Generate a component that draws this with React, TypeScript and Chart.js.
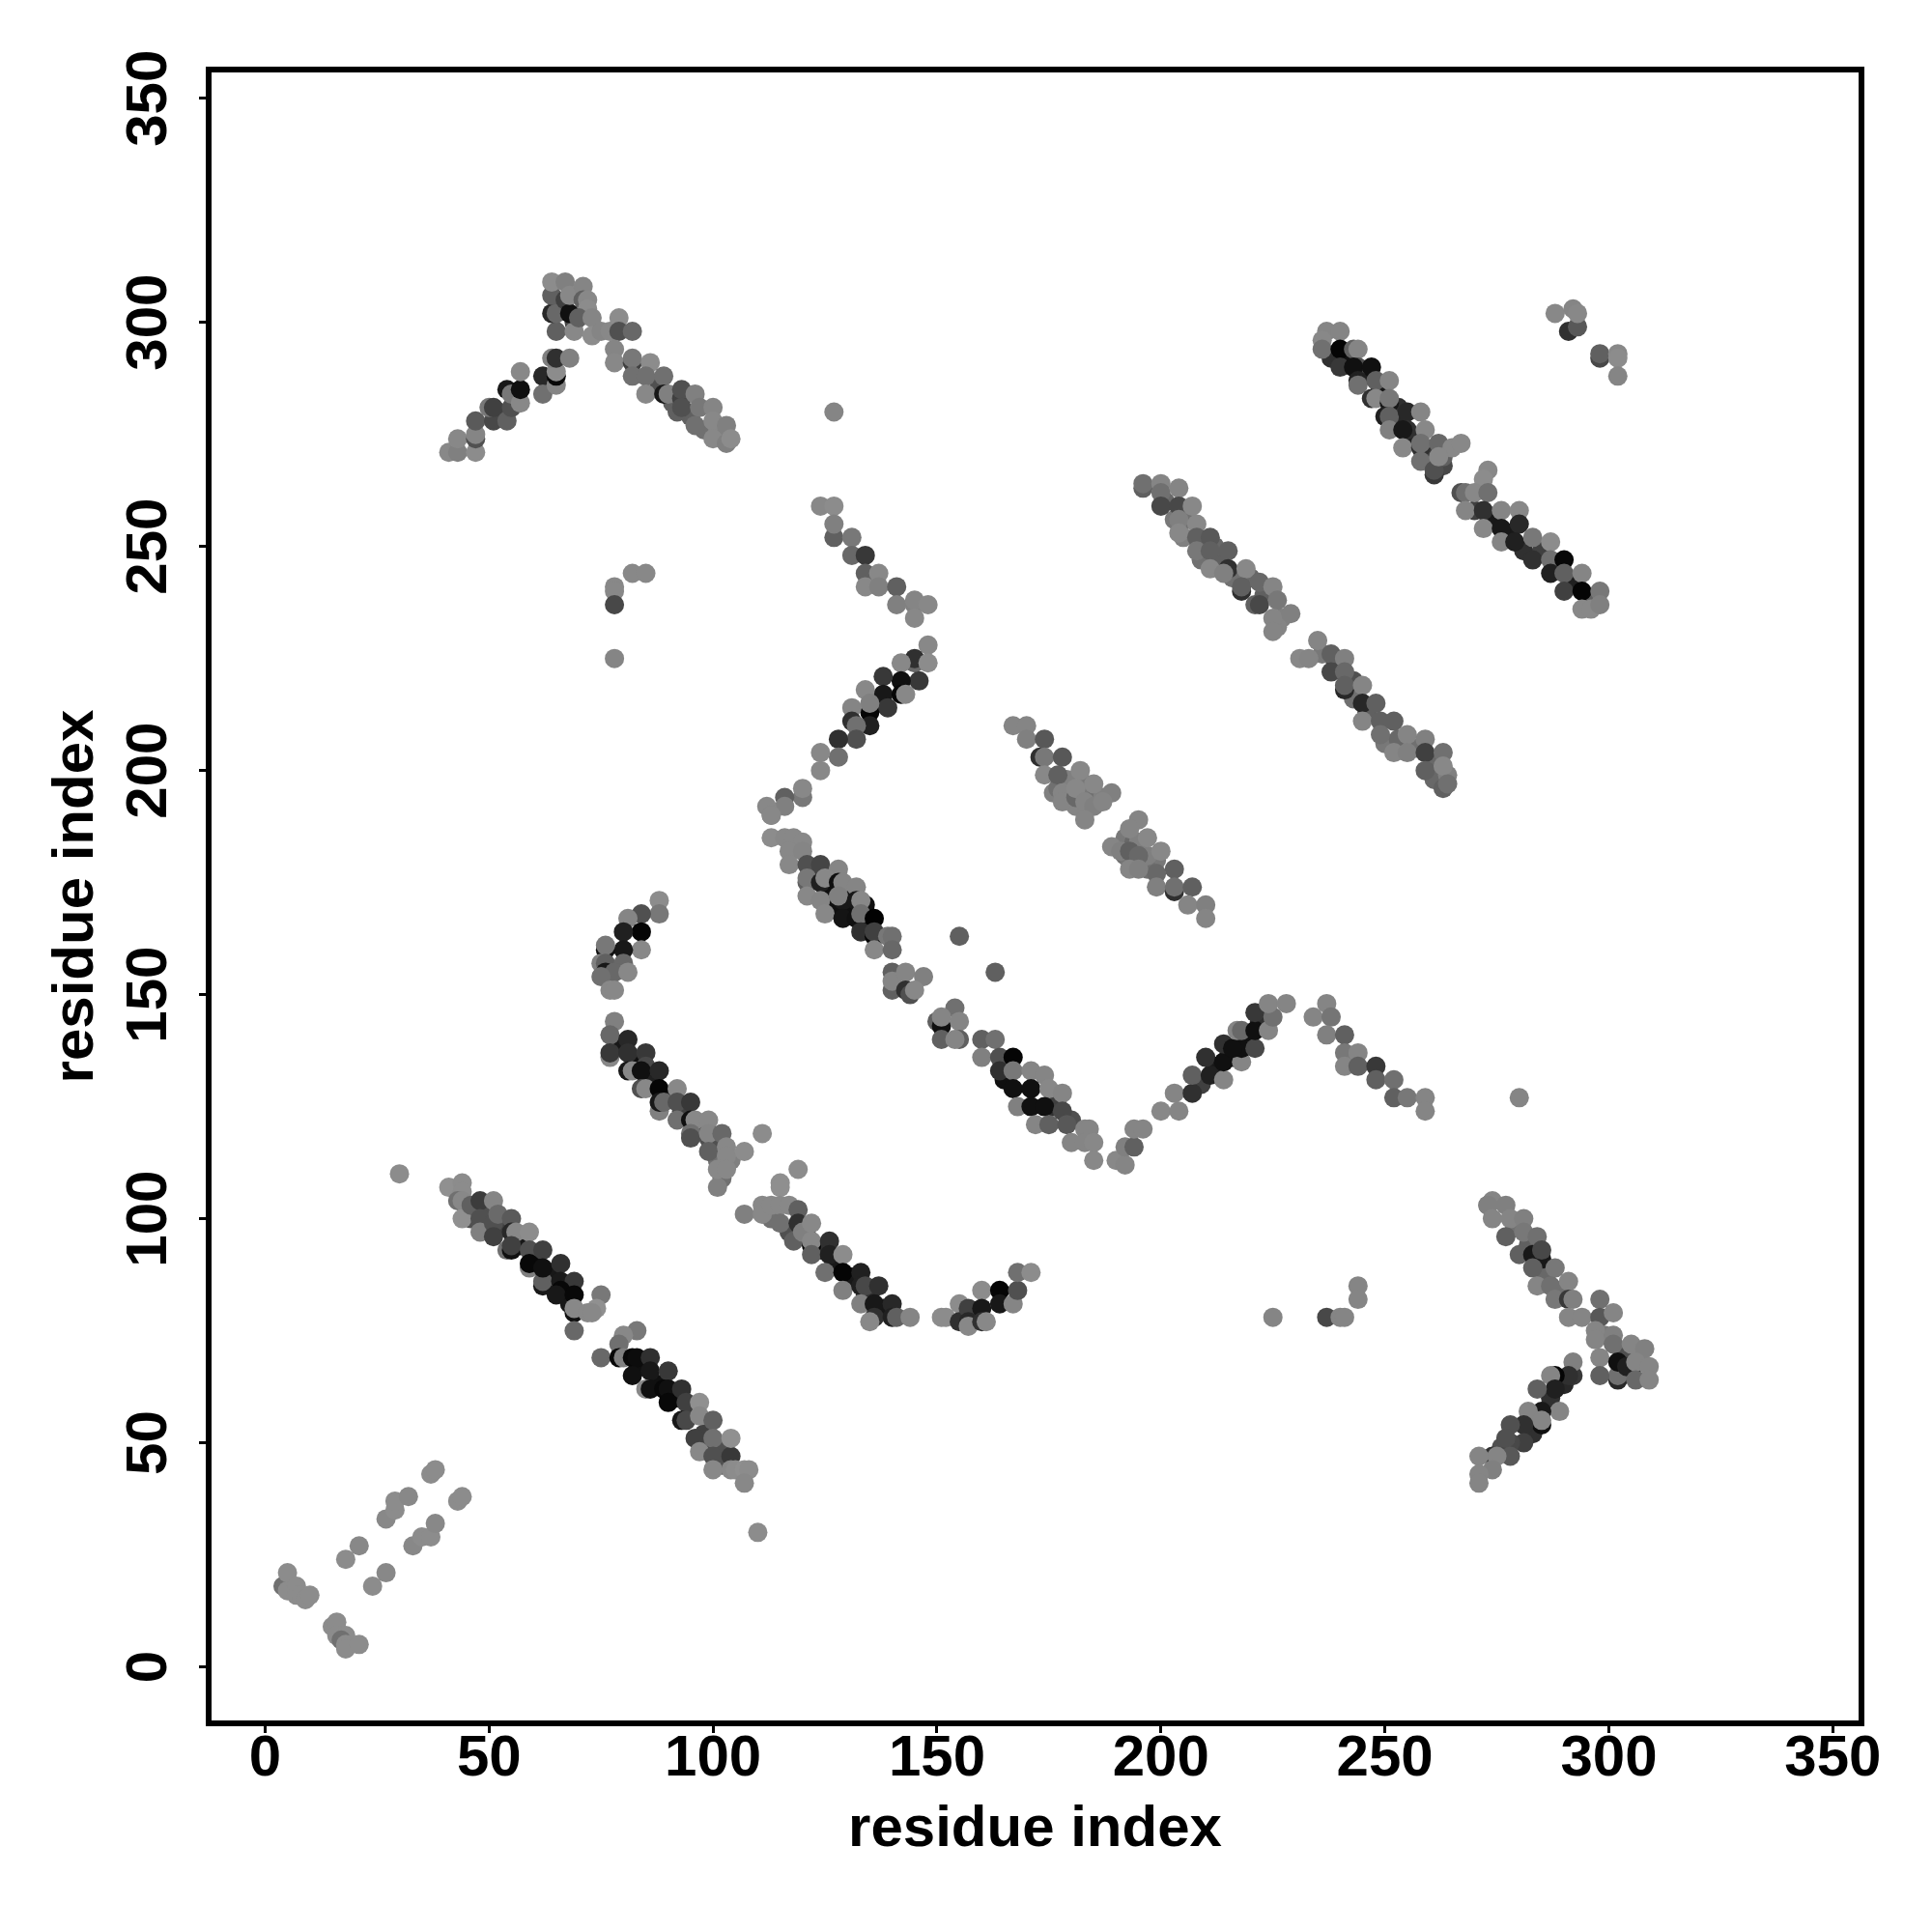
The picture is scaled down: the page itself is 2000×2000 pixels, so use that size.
import React, { useEffect, useRef } from "react";
import { Chart, registerables } from "chart.js";

Chart.register(...registerables);

// Each entry: [residue i, residue j, grey level of the contact]
const underlayLight = [
  [176,195,0x80],[177,196,0x70],[180,195,0x78],[181,192,0x85],[185,195,0x70],[187,194,0x80],[192,185,0x78],[192,181,0x70],
  [194,184,0x68],[195,184,0x80],[199,180,0x78],[197,178,0x70],[193,180,0x75],[179,198,0x80],[183,197,0x78],[197,181,0x80],
  [201,260,0x68],[203,256,0x78],[205,252,0x80],[209,247,0x70],[213,247,0x60],[216,243,0x70],[220,243,0x68],[223,239,0x60],
  [227,234,0x80],[226,232,0x85],[206,256,0x70],[212,250,0x68],
  [236,226,0x78],[239,224,0x50],[243,220,0x50],[243,216,0x70],[246,213,0x60],[250,206,0x78],[253,207,0x68],[257,205,0x70],
  [261,202,0x68],[261,198,0x68],[264,199,0x80],
  [273,103,0x78],[279,98,0x70],[282,94,0x60],[286,87,0x68],[289,84,0x70],[299,74,0x78],[303,70,0x50],[307,70,0x70],
  [52,280,0x48],[56,283,0x68],[66,304,0x50],[69,300,0x48],[88,286,0x50],[91,282,0x60],[95,279,0x60],[98,276,0x70],[101,276,0x80],
];

const underlayDark = [
  [46,100,0x50],[47,102,0x60],[50,101,0x50],[53,98,0x40],[57,94,0x18],[60,91,0x10],[64,88,0x18],[67,84,0x10],[68,81,0x18],
  [84,67,0x10],[88,63,0x10],[92,60,0x10],[95,57,0x30],[98,52,0x40],[99,49,0x40],[102,49,0x50],[102,45,0x60],[103,46,0x50],
  [79,139,0x18],[83,135,0x10],[86,131,0x20],[90,127,0x18],[93,124,0x40],[97,120,0x50],[100,117,0x50],[101,113,0x70],[104,113,0x80],
  [113,100,0x70],[117,97,0x50],[121,96,0x30],[124,93,0x30],[127,90,0x18],[131,87,0x18],[135,83,0x18],[138,80,0x18],[134,83,0x30],
  [122,178,0x30],[126,173,0x10],[130,172,0x10],[134,170,0x10],[127,169,0x10],[131,169,0x10],[134,166,0x18],
  [165,131,0x10],[176,125,0x30],[177,127,0x40],[180,122,0x50],
  [212,134,0x18],[216,136,0x10],[219,140,0x10],[222,144,0x30],[209,130,0x40],
  [238,292,0x30],[242,292,0x10],[245,288,0x18],[249,285,0x18],[253,281,0x30],[253,278,0x28],[256,274,0x20],[260,271,0x40],
  [263,268,0x48],[263,270,0x60],
  [270,258,0x40],[274,256,0x18],[278,253,0x18],[281,249,0x30],[285,249,0x40],[289,246,0x28],[292,242,0x20],[296,238,0x60],
  [285,91,0x18],[305,66,0x20],[283,52,0x30],[276,49,0x50],[287,60,0x30],[290,63,0x28],
];

const lowerLeft = [
  [4,18,0x70],[5,17,0x8c],[5,21,0x8c],[7,18,0x8c],[7,16,0x8c],[8,16,0x8c],[9,15,0x8c],[10,16,0x8c],
  [15,9,0x8c],[16,10,0x8c],[16,7,0x8c],[18,7,0x8c],[17,6,0x70],[18,5,0x8c],[18,4,0x8c],[21,5,0x8c],
  [18,24,0x8c],[21,27,0x88],[24,18,0x8c],[27,21,0x88],[27,33,0x88],[29,35,0x8c],[29,37,0x8c],[32,38,0x88],
  [33,27,0x88],[35,29,0x8c],[37,29,0x8c],[38,32,0x88],[37,43,0x8c],[38,44,0x8c],[43,37,0x8c],[44,38,0x8c],
  [30,110,0x8c],[110,30,0x8c],
];

const bandA = [
  [41,107,0x90],[44,108,0x8c],[44,106,0x8c],[43,104,0x70],[44,104,0x88],[44,100,0x90],[46,103,0x60],
  [48,104,0x3c],[48,100,0x50],[48,97,0x80],[51,104,0x85],[51,99,0x50],[51,96,0x40],[52,101,0x6a],
  [55,100,0x5a],[55,97,0x28],[56,97,0x88],[59,97,0x8c],[54,93,0x70],[55,93,0x10],[55,94,0x40],
  [59,93,0x50],[62,93,0x40],[59,89,0x80],[59,90,0x08],[62,85,0x18],[62,86,0x60],[62,89,0x10],
  [66,90,0x30],[66,86,0x1a],[69,86,0x38],[66,84,0x08],[65,83,0x18],[69,79,0x10],[69,83,0x08],[69,80,0x88],
  [69,75,0x68],[75,83,0x78],[74,80,0x90],[72,79,0x88],[73,79,0x88],
  [83,75,0x78],[80,74,0x88],[79,72,0x70],[75,69,0x68],[79,69,0x08],[80,69,0x80],[82,69,0x08],[83,69,0x0c],
  [86,69,0x30],[82,65,0x10],[86,66,0x18],[85,62,0x88],[86,62,0x10],[90,66,0x38],[89,62,0x08],[90,62,0x10],
  [90,59,0x08],[93,62,0x30],[94,59,0x40],[93,55,0x18],[94,55,0x48],[97,59,0x90],[97,56,0x88],[100,55,0x60],
  [96,51,0x40],[97,48,0x88],[100,51,0x70],[100,47,0x50],[104,47,0x38],[104,51,0x90],[100,44,0x88],[104,44,0x88],
  [105,44,0x8c],[107,44,0x8f],[108,44,0x8c],[107,41,0x88],
];

const bandB = [
  [78,144,0x80],[77,141,0x68],[77,136,0x88],[77,137,0x38],[81,140,0x28],[81,137,0x30],[85,137,0x38],
  [81,133,0x18],[82,133,0x88],[85,134,0x48],[84,133,0x10],[88,133,0x28],[84,129,0x50],[85,129,0x88],
  [88,129,0x05],[92,129,0x88],[88,124,0x80],[88,126,0x18],[89,126,0x68],[92,126,0x50],[95,126,0x38],
  [92,122,0x70],[95,122,0x10],[96,122,0x88],[99,122,0x88],[95,119,0x70],[95,118,0x50],[99,118,0x50],
  [99,119,0x85],[102,119,0x68],[99,115,0x60],[103,116,0x88],[103,114,0x88],[107,115,0x8c],[111,119,0x8c],
  [102,109,0x70],[101,107,0x80],[101,111,0x88],[103,111,0x88],
];

const bandC = [
  [119,111,0x8c],[115,108,0x8f],[115,107,0x8f],[107,101,0x80],[111,103,0x88],[111,101,0x88],[113,103,0x88],
  [115,103,0x88],[115,99,0x70],[117,103,0x88],[119,102,0x60],[119,99,0x30],[118,95,0x60],[120,97,0x80],
  [122,99,0x88],[122,94,0x05],[122,95,0x88],[122,92,0x60],[126,95,0x30],[126,92,0x20],[129,92,0x8c],
  [125,88,0x70],[129,88,0x05],[133,88,0x20],[129,84,0x80],[133,85,0x20],[134,85,0x48],[137,85,0x30],
  [133,81,0x80],[136,81,0x18],[140,81,0x28],[136,78,0x30],[135,77,0x88],[140,78,0x20],[141,78,0x60],[144,78,0x85],
];

const hookC = [
  [151,78,0x8c],[152,78,0x8c],[155,81,0x8c],[155,77,0x30],[157,80,0x40],[157,77,0x28],[157,76,0x88],[160,84,0x8c],
  [160,80,0x18],[160,77,0x30],[161,77,0x88],[164,84,0x05],[164,81,0x18],[167,81,0x85],[168,84,0x50],[168,88,0x70],[171,88,0x8c],
];

const hookB = [
  [88,171,0x8c],[88,168,0x78],[84,168,0x50],[81,167,0x85],[84,164,0x05],[80,164,0x20],[84,160,0x88],[80,160,0x18],
  [76,160,0x10],[76,161,0x78],[75,157,0x80],[76,157,0x60],[80,157,0x68],[76,155,0x18],[78,155,0x68],[81,155,0x88],
  [75,154,0x70],[77,151,0x88],[78,151,0x88],
];

const peakA = [
  [41,271,0x88],[43,271,0x80],[47,271,0x8c],[43,274,0x88],[47,274,0x50],[47,275,0x85],[47,278,0x5a],[51,278,0x48],
  [50,281,0x78],[51,281,0x40],[54,278,0x60],[55,281,0x50],[54,285,0x18],[55,284,0x78],[57,282,0x88],[57,285,0x10],
  [57,289,0x88],[62,288,0x28],[62,284,0x70],[65,286,0x85],[65,288,0x08],[65,289,0x8c],[64,292,0x80],[65,292,0x30],
  [68,292,0x80],[65,298,0x60],[69,298,0x88],[64,302,0x28],[65,302,0x68],[64,306,0x60],[64,309,0x8c],[67,309,0x80],
  [67,305,0x40],[68,302,0x10],[68,306,0x88],[71,308,0x85],[71,305,0x60],[72,305,0x88],[72,303,0x8c],[70,301,0x60],
  [73,301,0x85],[73,297,0x8c],[75,298,0x85],[77,298,0x88],[79,301,0x8c],[79,298,0x50],[82,298,0x68],[78,294,0x85],
  [78,291,0x88],[82,291,0x40],[82,292,0x78],[82,288,0x70],[86,291,0x8c],[85,288,0x70],[89,288,0x70],[85,284,0x88],
  [89,284,0x18],[90,284,0x80],[93,283,0x40],[93,285,0x50],[92,280,0x60],[93,281,0x50],[96,284,0x80],[97,281,0x78],
  [100,281,0x85],[96,277,0x70],[100,278,0x88],[100,274,0x88],[103,277,0x80],[103,273,0x80],[104,274,0x8c],
];

const scatterTop = [
  [82,244,0x88],[85,244,0x88],[78,241,0x88],[78,240,0x88],[78,237,0x48],[78,225,0x85],[127,280,0x85],
  [155,163,0x60],[163,155,0x60],[225,78,0x85],[237,78,0x48],[240,78,0x85],[241,78,0x85],[244,85,0x85],[244,82,0x85],[280,127,0x85],
];

const branchK = [
  [124,259,0x88],[127,259,0x8c],[127,252,0x60],[127,255,0x80],[131,252,0x78],[131,248,0x68],[134,248,0x38],[134,244,0x60],
  [137,244,0x88],[134,241,0x88],[137,241,0x80],[141,241,0x60],[141,237,0x80],[145,237,0x80],[145,238,0x85],[148,237,0x88],[145,234,0x88],
];

const branchL = [
  [148,228,0x88],[145,224,0x68],[145,225,0x30],[148,224,0x8c],[142,224,0x88],[146,220,0x38],[142,220,0x10],[138,221,0x38],
  [138,217,0x18],[142,217,0x08],[143,217,0x88],[134,218,0x88],[139,214,0x38],[135,213,0x05],[135,215,0x80],[131,214,0x85],
  [135,210,0x20],[131,211,0x30],[132,210,0x70],[132,207,0x50],[128,207,0x30],[128,203,0x70],[124,204,0x88],[124,200,0x88],
  [120,194,0x78],[120,196,0x88],[116,194,0x60],[116,192,0x80],[112,192,0x88],[113,190,0x85],
];

const bandM = [
  [237,298,0x85],[240,298,0x85],[236,296,0x88],[236,294,0x70],[240,294,0x05],[243,294,0x60],[244,294,0x85],[240,290,0x38],
  [244,290,0x50],[243,290,0x10],[247,290,0x10],[244,287,0x20],[244,286,0x70],[248,287,0x60],[251,287,0x85],[247,283,0x30],
  [248,283,0x88],[251,282,0x18],[251,283,0x78],[250,279,0x20],[251,279,0x60],[255,280,0x28],[258,280,0x85],[251,276,0x80],
  [255,276,0x30],[254,276,0x18],[259,276,0x88],[254,272,0x88],[258,272,0x30],[258,273,0x70],[262,273,0x68],[265,272,0x88],
  [267,273,0x88],[258,269,0x70],[261,266,0x38],[261,267,0x50],[262,270,0x88],
];

const bandN = [
  [273,267,0x88],[272,265,0x8c],[267,262,0x50],[268,262,0x70],[270,262,0x88],[273,262,0x70],[268,258,0x85],[272,258,0x30],
  [276,258,0x85],[280,258,0x88],[272,254,0x88],[276,254,0x18],[280,255,0x28],[276,251,0x85],[279,251,0x20],[283,252,0x78],
  [287,251,0x8c],[283,247,0x30],[287,247,0x70],[290,247,0x08],[287,244,0x20],[290,244,0x60],[294,244,0x85],[290,240,0x40],
  [294,240,0x05],[298,240,0x78],[294,236,0x88],[296,236,0x88],[298,237,0x80],
];

const cornerO = [
  [288,302,0x88],[291,298,0x30],[293,299,0x58],[292,303,0x85],[293,302,0x88],[298,292,0x48],[298,293,0x60],[302,293,0x88],[302,292,0x8c],[302,288,0x85],
];

const bandP = [
  [196,263,0x60],[196,264,0x70],[200,264,0x85],[200,262,0x70],[204,263,0x85],[200,259,0x48],[204,259,0x48],[207,259,0x88],
  [204,256,0x80],[204,253,0x88],[208,255,0x88],[208,252,0x60],[211,252,0x58],[208,249,0x78],[211,249,0x60],[215,249,0x60],
  [211,245,0x88],[215,245,0x30],[219,245,0x88],[214,244,0x80],[218,240,0x30],[218,241,0x60],[222,242,0x68],[225,241,0x85],
  [221,237,0x60],[222,237,0x48],[226,238,0x78],[225,234,0x85],[229,235,0x80],[225,231,0x85],
];

const bandQ = [
  [235,229,0x85],[231,225,0x88],[233,225,0x85],[238,226,0x60],[241,225,0x80],[238,222,0x48],[241,222,0x68],[241,218,0x28],
  [241,219,0x60],[245,219,0x85],[245,215,0x28],[248,215,0x60],[245,211,0x85],[249,211,0x60],[252,211,0x60],[249,208,0x70],
  [255,208,0x85],[252,204,0x85],[255,204,0x80],[259,207,0x80],[259,204,0x40],[263,204,0x70],[259,200,0x60],[263,201,0x88],
  [263,196,0x60],[264,197,0x70],
];

const bandR = [
  [167,210,0x85],[170,210,0x85],[170,207,0x80],[173,203,0x30],[174,207,0x58],[174,203,0x78],[178,203,0x58],[174,199,0x88],
  [177,199,0x60],[182,200,0x88],[178,195,0x85],[178,193,0x85],[181,194,0x68],[181,196,0x88],[185,197,0x88],[183,193,0x85],
  [185,192,0x80],[189,195,0x80],[187,193,0x85],[183,189,0x85],
  [195,189,0x85],[193,187,0x85],[189,183,0x85],[191,182,0x80],[193,182,0x60],[197,185,0x88],[195,181,0x68],[193,178,0x85],
  [200,182,0x88],[199,177,0x68],[195,178,0x80],[203,178,0x60],[199,174,0x80],[203,173,0x30],[203,174,0x70],[207,174,0x60],
  [206,170,0x85],[210,170,0x80],[210,167,0x85],
];

const bandY = [
  [113,190,0x88],[113,185,0x8c],[116,185,0x88],[118,185,0x88],[120,184,0x88],[117,182,0x88],[120,182,0x85],[117,179,0x88],
  [121,175,0x60],[121,179,0x50],[124,179,0x45],[121,176,0x78],[128,178,0x85],[121,172,0x88],[124,175,0x20],[125,176,0x88],
  [128,175,0x10],[129,175,0x85],[132,174,0x85],[125,171,0x10],[124,171,0x85],[125,168,0x88],[129,171,0x18],[128,172,0x80],
  [132,171,0x18],[133,171,0x88],[129,167,0x14],[132,167,0x10],[133,168,0x70],[136,167,0x02],[133,164,0x30],[136,163,0x05],
  [136,164,0x40],[136,160,0x88],[139,163,0x78],[140,163,0x70],[140,160,0x68],[140,155,0x60],[140,151,0x60],[140,153,0x85],
  [143,155,0x85],[147,154,0x80],[143,151,0x30],[144,150,0x50],[145,151,0x88],[154,147,0x70],[150,144,0x60],[151,143,0x10],
  [151,145,0x85],[155,144,0x85],[151,140,0x60],[155,140,0x60],[154,140,0x85],
];

const bandS = [
  [160,140,0x60],[163,140,0x70],[160,136,0x80],[164,136,0x50],[167,136,0x05],[164,133,0x30],[167,133,0x78],[171,133,0x85],
  [174,132,0x85],[167,129,0x10],[171,129,0x10],[175,129,0x88],[178,128,0x85],[168,125,0x80],[171,125,0x10],[174,125,0x10],
  [178,124,0x48],[172,121,0x85],[175,121,0x60],[179,121,0x58],[183,120,0x85],[184,120,0x85],[180,117,0x85],[183,117,0x85],
  [185,117,0x88],[185,113,0x88],
];

const valleyT = [
  [190,113,0x88],[192,112,0x85],[192,116,0x80],[194,116,0x60],[194,120,0x85],[196,120,0x85],[200,124,0x88],[204,124,0x85],
  [203,128,0x85],[207,128,0x30],[207,132,0x60],[211,132,0x20],[210,136,0x30],[214,131,0x85],[214,135,0x10],[214,139,0x30],
  [218,135,0x85],[218,138,0x10],[216,138,0x10],[217,142,0x85],[218,142,0x68],[221,138,0x48],[221,142,0x10],[224,142,0x85],
  [221,146,0x38],[225,145,0x70],[224,148,0x85],[228,148,0x85],
];

const slopeU = [
  [237,148,0x85],[234,145,0x85],[238,145,0x75],[237,141,0x80],[241,141,0x60],[241,137,0x78],[244,137,0x85],[241,134,0x85],
  [244,134,0x60],[248,134,0x38],[248,131,0x60],[252,131,0x70],[252,127,0x60],[255,127,0x78],[259,127,0x85],[259,124,0x85],
];

const bandW = [
  [274,104,0x85],[273,103,0x80],[277,103,0x80],[274,100,0x85],[278,100,0x85],[281,100,0x80],[277,96,0x60],[281,97,0x78],
  [284,96,0x70],[280,92,0x60],[283,92,0x18],[285,93,0x48],[283,89,0x60],[284,85,0x85],[288,89,0x78],[287,85,0x70],
  [291,86,0x85],[288,82,0x78],[291,82,0x38],[292,82,0x80],[291,78,0x85],[294,78,0x85],[298,82,0x70],[298,78,0x58],
  [301,79,0x85],[297,75,0x85],[297,73,0x85],[301,74,0x80],[301,72,0x70],[305,72,0x85],[308,71,0x80],[298,69,0x85],
  [302,64,0x28],[302,65,0x70],[302,68,0x10],[304,67,0x20],[306,68,0x85],[309,67,0x85],[298,65,0x60],[306,64,0x68],[309,64,0x85],
];

const bandX = [
  [292,65,0x38],[292,68,0x80],[291,65,0x30],[288,65,0x05],[287,65,0x85],[288,62,0x20],[284,62,0x60],[289,57,0x85],
  [285,57,0x18],[282,57,0x85],[285,54,0x10],[285,55,0x85],[281,54,0x30],[278,54,0x50],[281,50,0x40],[278,50,0x48],
  [277,51,0x50],[278,47,0x58],[274,47,0x30],[275,47,0x85],[271,47,0x85],[274,44,0x80],[271,43,0x85],[271,41,0x85],
];

const contacts = [
  ...underlayLight, ...underlayDark,
  ...lowerLeft, ...bandA, ...bandB, ...bandC, ...hookC, ...hookB, ...peakA, ...scatterTop, ...branchK, ...branchL,
  ...bandM, ...bandN, ...cornerO, ...bandP, ...bandQ, ...bandR, ...bandY, ...bandS, ...valleyT, ...slopeU, ...bandW, ...bandX,
];

const axisTicks = [0, 50, 100, 150, 200, 250, 300, 350];
const axisLabel = "residue index";
const FONT = '"Liberation Sans", Arial, sans-serif';

const framePlugin = {
  id: "frame",
  afterDraw(chart: any) {
    const { ctx, chartArea: a, scales } = chart;
    ctx.save();
    ctx.strokeStyle = "#000";
    ctx.lineWidth = 6;
    ctx.lineJoin = "miter";
    ctx.strokeRect(a.left, a.top, a.right - a.left, a.bottom - a.top);
    const y = scales.y;
    ctx.fillStyle = "#000";
    ctx.font = `bold 60px ${FONT}`;
    ctx.textAlign = "center";
    ctx.textBaseline = "alphabetic";
    for (const t of y.ticks) {
      ctx.save();
      ctx.translate(172, y.getPixelForValue(t.value));
      ctx.rotate(-Math.PI / 2);
      ctx.fillText(String(t.value), 0, 0);
      ctx.restore();
    }
    ctx.restore();
  },
};

export default function App() {
  const ref = useRef<HTMLCanvasElement | null>(null);
  useEffect(() => {
    const chart = new Chart(ref.current as HTMLCanvasElement, {
      type: "scatter",
      data: {
        datasets: [
          {
            data: contacts.map(([x, y]) => ({ x, y })),
            pointRadius: 10,
            pointHoverRadius: 10,
            pointBorderWidth: 0,
            pointBackgroundColor: contacts.map(([, , g]) => `rgb(${g},${g},${g})`),
          },
        ],
      },
      options: {
        responsive: false,
        animation: false,
        layout: { padding: { left: 0, right: 73, top: 72, bottom: 0 } },
        plugins: { legend: { display: false }, tooltip: { enabled: false } },
        scales: {
          x: {
            type: "linear",
            min: -12.6,
            max: 356.4,
            afterFit: (s: any) => { s.height = 216; },
            afterBuildTicks: (s: any) => { s.ticks = axisTicks.map((value) => ({ value })); },
            grid: { drawOnChartArea: false, drawTicks: true, tickLength: 10, tickWidth: 3, tickColor: "#000" },
            border: { display: false },
            ticks: {
              autoSkip: false,
              maxRotation: 0,
              minRotation: 0,
              padding: -3,
              color: "#000",
              font: { family: FONT, weight: "bold", size: 60, lineHeight: 1 },
            },
            title: {
              display: true,
              text: axisLabel,
              color: "#000",
              font: { family: FONT, weight: "bold", size: 60, lineHeight: 1 },
              padding: { top: 0, bottom: 76 },
            },
          },
          y: {
            type: "linear",
            min: -12.6,
            max: 356.4,
            afterFit: (s: any) => { s.width = 216; },
            afterBuildTicks: (s: any) => { s.ticks = axisTicks.map((value) => ({ value })); },
            grid: { drawOnChartArea: false, drawTicks: true, tickLength: 10, tickWidth: 3, tickColor: "#000" },
            border: { display: false },
            ticks: { display: false },
            title: {
              display: true,
              text: axisLabel,
              color: "#000",
              font: { family: FONT, weight: "bold", size: 60, lineHeight: 1 },
              padding: { top: 49, bottom: 0 },
            },
          },
        },
      },
      plugins: [framePlugin],
    } as any);
    return () => chart.destroy();
  }, []);
  return (
    <div style={{ position: "absolute", left: 0, top: 0, width: 2000, height: 2000, background: "#fff" }}>
      <canvas ref={ref} width={2000} height={2000} style={{ display: "block" }} />
    </div>
  );
}
